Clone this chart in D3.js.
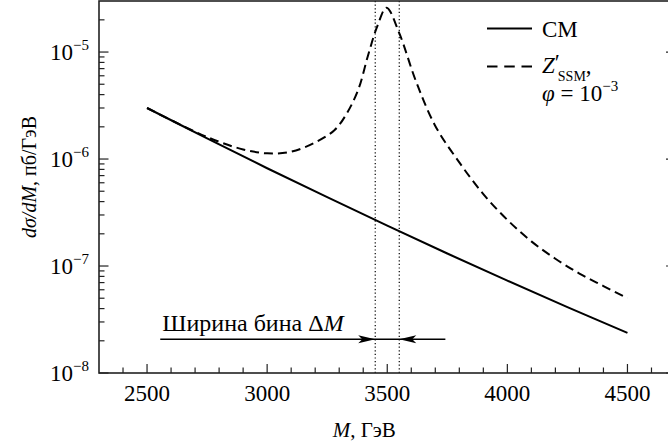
<!DOCTYPE html>
<html>
<head>
<meta charset="utf-8">
<script src="https://cdn.jsdelivr.net/npm/d3@7"></script>
<style>
  body { margin: 0; background: #fff; }
  text { font-family: 'Liberation Serif', 'Times New Roman', 'DejaVu Serif', serif; }
</style>
</head>
<body>
<svg id="chart" width="668" height="447"></svg>
<script>
// SM (Standard Model) Drell-Yan spectrum, pb/GeV
const massSM = [2500, 2750, 3000, 3250, 3500, 3750, 4000, 4250, 4500];
const sigmaSM = [3.0e-6, 1.56e-6, 8.2e-7, 4.4e-7, 2.39e-7, 1.31e-7, 7.3e-8, 4.13e-8, 2.37e-8];

// Z'_SSM with phi = 1e-3
const massZ = [2500, 2700, 2800, 2900, 3000, 3100, 3200, 3280, 3330, 3380, 3420, 3460,
               3497, 3550, 3620, 3700, 3800, 3900, 4000, 4100, 4200, 4300, 4400, 4500];
const sigmaZ = [3.0e-6, 1.8e-6, 1.45e-6, 1.23e-6, 1.13e-6, 1.17e-6, 1.43e-6, 1.86e-6, 2.63e-6, 4.5e-6, 9.3e-6, 1.78e-5,
                2.6e-5, 1.5e-5, 5.3e-6, 2.04e-6, 9.3e-7, 4.7e-7, 2.7e-7, 1.7e-7, 1.17e-7, 8.5e-8, 6.5e-8, 5.0e-8];

const xTicks = [2500, 3000, 3500, 4000, 4500];
const yExponents = [-8, -7, -6, -5];
const binEdges = [3450, 3550];
const arrowSpan = [2555, 3742];
const arrowLevel = 2.07e-8;

const serif = "'Liberation Serif', 'Times New Roman', 'DejaVu Serif', serif";
const svg = d3.select('#chart').attr('font-family', serif);
const pLeft = 99, pRight = 675.5, pTop = 1, pBottom = 373;

const x = d3.scaleLinear().domain([2300, 4700]).range([pLeft, pRight]);
const y = d3.scaleLog().domain([1e-8, 3e-5]).range([pBottom, pTop]);

// dotted bin edges
svg.selectAll('line.bin')
    .data(binEdges)
    .enter().append('line')
    .attr('x1', d => x(d)).attr('x2', d => x(d))
    .attr('y1', pTop).attr('y2', pBottom)
    .attr('stroke', '#000').attr('stroke-width', 1.2)
    .attr('stroke-dasharray', '1.2,2.4');

// frame
svg.append('rect')
    .attr('x', pLeft).attr('y', pTop)
    .attr('width', pRight - pLeft).attr('height', pBottom - pTop)
    .attr('fill', 'none').attr('stroke', '#222').attr('stroke-width', 1.6);

// x ticks (major every 500, minor every 100)
const xMinor = d3.range(2400, 4700, 100);
svg.selectAll('line.xt')
    .data(xMinor)
    .enter().append('line')
    .attr('x1', d => x(d)).attr('x2', d => x(d))
    .attr('y1', pBottom).attr('y2', d => pBottom - (d % 500 === 0 ? 9 : 5.5))
    .attr('stroke', '#222').attr('stroke-width', 1.2);

svg.selectAll('text.xl')
    .data(xTicks)
    .enter().append('text')
    .attr('x', d => x(d)).attr('y', 401)
    .attr('text-anchor', 'middle')
    .attr('font-size', 23)
    .text(d => d);

// y ticks (both sides)
const yMinor = [];
yExponents.forEach(function (e) {
    for (let k = 1; k < 10; k++) {
        let v = k * Math.pow(10, e);
        if (v <= 3e-5) yMinor.push({v: v, major: k === 1});
    }
});
[pLeft, pRight].forEach(function (edge) {
    let dir = edge === pLeft ? 1 : -1;
    svg.selectAll(null)
        .data(yMinor)
        .enter().append('line')
        .attr('x1', edge).attr('x2', d => edge + dir * (d.major ? 9.5 : 5.5))
        .attr('y1', d => y(d.v)).attr('y2', d => y(d.v))
        .attr('stroke', '#222').attr('stroke-width', 1.2);
});

const yl = svg.selectAll('text.yl')
    .data(yExponents)
    .enter().append('text')
    .attr('x', 89).attr('y', e => y(Math.pow(10, e)) + 8)
    .attr('text-anchor', 'end')
    .attr('font-size', 23);
yl.append('tspan').text('10');
yl.append('tspan').attr('font-size', 15).attr('dy', -10).text(e => '\u2212' + Math.abs(e));

// curves
const line = d3.line()
    .x(d => x(d[0]))
    .y(d => y(d[1]))
    .curve(d3.curveCatmullRom.alpha(0.5));

svg.append('path')
    .datum(massZ.map((m, i) => [m, sigmaZ[i]]))
    .attr('d', line)
    .attr('fill', 'none').attr('stroke', '#000').attr('stroke-width', 2)
    .attr('stroke-dasharray', '9,5');

svg.append('path')
    .datum(massSM.map((m, i) => [m, sigmaSM[i]]))
    .attr('d', line)
    .attr('fill', 'none').attr('stroke', '#000').attr('stroke-width', 2);

// bin width annotation
const ay = y(arrowLevel);
svg.append('line')
    .attr('x1', x(arrowSpan[0])).attr('x2', x(arrowSpan[1]))
    .attr('y1', ay).attr('y2', ay)
    .attr('stroke', '#000').attr('stroke-width', 1.6);
svg.append('path')
    .attr('d', `M${x(binEdges[0])},${ay} L${x(binEdges[0]) - 17},${ay - 4} L${x(binEdges[0]) - 13},${ay} L${x(binEdges[0]) - 17},${ay + 4} Z`)
    .attr('fill', '#000');
svg.append('path')
    .attr('d', `M${x(binEdges[1])},${ay} L${x(binEdges[1]) + 17},${ay - 4} L${x(binEdges[1]) + 13},${ay} L${x(binEdges[1]) + 17},${ay + 4} Z`)
    .attr('fill', '#000');

const ann = svg.append('text')
    .attr('x', x(arrowSpan[0]) + 2).attr('y', ay - 8)
    .attr('font-size', 24);
ann.append('tspan').text('Ширина бина \u0394');
ann.append('tspan').attr('font-style', 'italic').text('M');

// legend
const lx = 487, lw = 45;
svg.append('line')
    .attr('x1', lx).attr('x2', lx + lw).attr('y1', 28.5).attr('y2', 28.5)
    .attr('stroke', '#000').attr('stroke-width', 2);
svg.append('line')
    .attr('x1', lx).attr('x2', lx + lw).attr('y1', 66.5).attr('y2', 66.5)
    .attr('stroke', '#000').attr('stroke-width', 2)
    .attr('stroke-dasharray', '10.5,6.75');

svg.append('text')
    .attr('x', 542).attr('y', 37)
    .attr('font-size', 23)
    .text('СМ');

const lz = svg.append('text')
    .attr('x', 542).attr('y', 73)
    .attr('font-size', 23);
lz.append('tspan').attr('font-style', 'italic').text('Z');
lz.append('tspan').attr('dy', -3).text('\u2032');
lz.append('tspan').attr('font-size', 14).attr('dy', 11).attr('dx', -2).text('SSM');
lz.append('tspan').attr('dy', -8).text(',');

const lp = svg.append('text')
    .attr('x', 542).attr('y', 101)
    .attr('font-size', 23);
lp.append('tspan').attr('font-style', 'italic').text('\u03c6');
lp.append('tspan').text(' = 10');
lp.append('tspan').attr('font-size', 15).attr('dy', -10).text('\u22123');

// axis titles
const xt = svg.append('text')
    .attr('x', (pLeft + pRight) / 2 - 23).attr('y', 437)
    .attr('text-anchor', 'middle')
    .attr('font-size', 21);
xt.append('tspan').attr('font-style', 'italic').text('M');
xt.append('tspan').text(', ГэВ');

const ytl = svg.append('text')
    .attr('transform', 'translate(36,177) rotate(-90)')
    .attr('text-anchor', 'middle')
    .attr('font-size', 20);
ytl.append('tspan').attr('font-style', 'italic').text('d\u03c3/dM');
ytl.append('tspan').text(', пб/ГэВ');
</script>
</body>
</html>
